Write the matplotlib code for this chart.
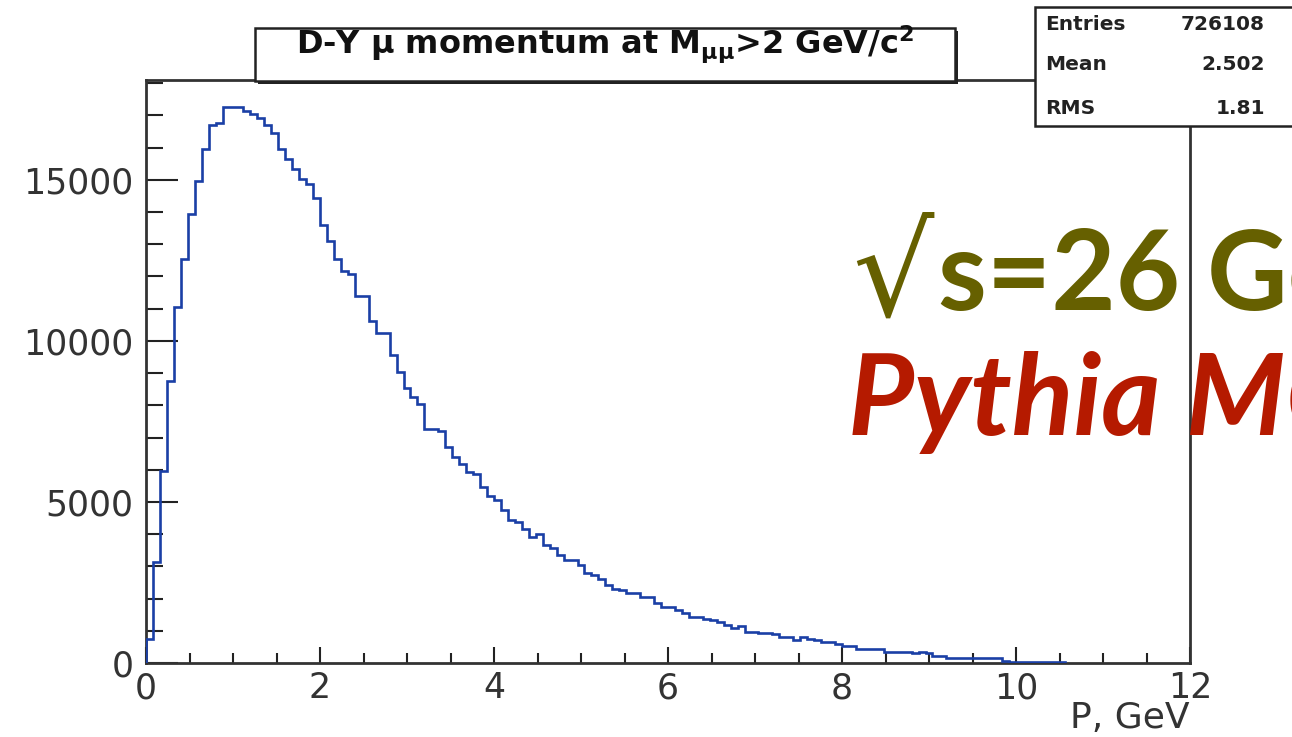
import numpy as np
import matplotlib
matplotlib.use("Agg")
import matplotlib.pyplot as plt
from matplotlib.patches import Rectangle
from matplotlib.ticker import MultipleLocator

# ---------------- data ----------------
bin_width = 0.08
counts = [
    750, 3150, 5950, 8750, 11050, 12550, 13950, 14950, 15950, 16700,      # 0.00-0.80
    16750, 17250, 17250, 17260, 17150, 17050, 16930, 16700, 16450, 15960,  # 0.80-1.60
    15650, 15350, 15040, 14870, 14450, 13600, 13100, 12550, 12180, 12080,  # 1.60-2.40
    11400, 11400, 10630, 10230, 10230, 9550, 9030, 8550, 8250, 8040,       # 2.40-3.20
    7270, 7260, 7200, 6700, 6400, 6180, 5920, 5870, 5450, 5200,            # 3.20-4.00
    5050, 4750, 4450, 4380, 4175, 3915, 4020, 3660, 3555, 3350,            # 4.00-4.80
    3200, 3190, 3040, 2780, 2730, 2600, 2420, 2300, 2260, 2180,            # 4.80-5.60
    2160, 2060, 2040, 1850, 1750, 1746, 1650, 1540, 1440, 1436,            # 5.60-6.40
    1353, 1330, 1281, 1178, 1075, 1147, 972, 950, 920, 920,                # 6.40-7.20
    900, 816, 800, 713, 816, 734, 700, 661, 661, 600,                      # 7.20-8.00
    527, 527, 424, 424, 424, 424, 351, 351, 351, 330,                      # 8.00-8.80
    300, 351, 300, 227, 227, 145, 145, 145, 140, 140,                      # 8.80-9.60
    145, 140, 140, 50, 45, 40, 45, 40, 35, 40,                             # 9.60-10.40
    35, 30,                                                                # 10.40-10.56
]
edges = np.arange(len(counts) + 1) * bin_width

x_major = [0, 2, 4, 6, 8, 10, 12]
y_major = [0, 5000, 10000, 15000]
y_labels = ["0", "5000", "10000", "15000"]

title_text = r"D-Y μ momentum at M$_{\mathregular{μμ}}$>2 GeV/c$^{\mathbf{2}}$"
stats_names = ["Entries", "Mean", "RMS"]
stats_values = ["726108", "2.502", "1.81"]

# ---------------- figure ----------------
W, H = 1292, 737
plt.rcParams['mathtext.fontset'] = 'dejavusans'
fig = plt.figure(figsize=(W / 100, H / 100), dpi=100)


def fx(px):
    return px / W


def fy(py):
    return 1 - py / H


ax_left, ax_right, ax_top, ax_bottom = 146, 1190, 80, 663
ax = fig.add_axes([fx(ax_left), fy(ax_bottom), (ax_right - ax_left) / W, (ax_bottom - ax_top) / H])

ax.stairs(counts, edges, color="#1a3fa6", linewidth=1.9, baseline=0, zorder=3)

ax.set_xlim(0, 12)
ax.set_ylim(0, 18100)

ax.set_xticks(x_major)
ax.set_xticklabels([str(v) for v in x_major])
ax.xaxis.set_minor_locator(MultipleLocator(0.5))
ax.set_yticks(y_major)
ax.set_yticklabels(y_labels)
ax.yaxis.set_minor_locator(MultipleLocator(1000))

ax.tick_params(axis="x", which="major", direction="in", length=11.5, width=1.5,
               pad=6, labelsize=25, colors="#222222", labelcolor="#333333")
ax.tick_params(axis="x", which="minor", direction="in", length=7, width=1.5, colors="#222222")
ax.tick_params(axis="y", which="major", direction="in", length=23, width=1.5,
               pad=9, labelsize=25, colors="#222222", labelcolor="#333333")
ax.tick_params(axis="y", which="minor", direction="in", length=12, width=1.5, colors="#222222")
ax.tick_params(top=False, right=False, which="both")

for s in ax.spines.values():
    s.set_linewidth(2)
    s.set_color("#333333")

# x-axis title
fig.text(fx(1190), fy(718), "P, GeV", ha="right", va="center", fontsize=26, color="#333333")

# ---------------- title box ----------------
tb_l, tb_r, tb_t, tb_b = 255, 955, 28, 81
fig.patches.append(Rectangle((fx(tb_l) + 3 / W, fy(tb_b) - 3 / H), (tb_r - tb_l) / W, (tb_b - tb_t) / H,
                             transform=fig.transFigure, facecolor="#222222", edgecolor="none", zorder=5))
fig.patches.append(Rectangle((fx(tb_l), fy(tb_b)), (tb_r - tb_l) / W, (tb_b - tb_t) / H,
                             transform=fig.transFigure, facecolor="white", edgecolor="#222222",
                             linewidth=1.8, zorder=6))
fig.text(fx((tb_l + tb_r) / 2), fy(54), title_text, ha="center", va="baseline",
         fontsize=23, fontweight="bold", color="#111111", zorder=7)

# ---------------- stats box ----------------
sb_l, sb_t, sb_b = 1035, 7, 126
fig.patches.append(Rectangle((fx(sb_l), fy(sb_b)), (W + 20 - sb_l) / W, (sb_b - sb_t) / H,
                             transform=fig.transFigure, facecolor="white", edgecolor="#222222",
                             linewidth=1.8, zorder=6))
stats_y = [25, 65, 108]
for name, val, yy in zip(stats_names, stats_values, stats_y):
    fig.text(fx(1045), fy(yy), name, ha="left", va="center", fontsize=14.5,
             fontweight="bold", color="#222222", zorder=7)
    fig.text(fx(1265), fy(yy), val, ha="right", va="center", fontsize=14.5,
             fontweight="bold", color="#222222", zorder=7)

# ---------------- big annotations ----------------
olive = "#666000"
red = "#b51a00"
fig.text(fx(852), fy(316), "√", ha="left", va="baseline", fontsize=92,
         fontweight="normal", color=olive, family=["DejaVu Sans"], zorder=2)
fig.text(fx(938), fy(310), "s=26 GeV", ha="left", va="baseline", fontsize=80,
         fontweight="bold", color=olive, family=["Lato", "DejaVu Sans"], zorder=2)
fig.text(fx(848), fy(435), "Pythia MC", ha="left", va="baseline", fontsize=82,
         fontweight="bold", fontstyle="italic", color=red,
         family=["Lato", "DejaVu Sans"], zorder=2)

fig.savefig("out.png", dpi=100)
